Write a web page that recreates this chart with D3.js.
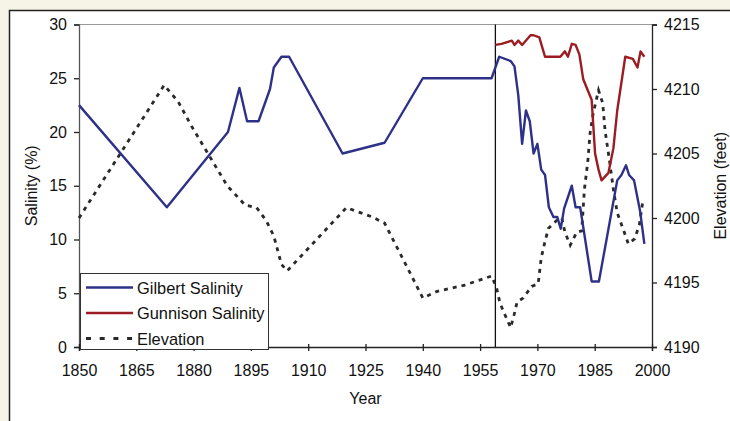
<!DOCTYPE html>
<html>
<head>
<meta charset="utf-8">
<script src="https://d3js.org/d3.v7.min.js"></script>
<style>
body{margin:0;padding:0;background:#f6f4e6}
svg text{font-family:"Liberation Sans",Arial,sans-serif;fill:#111}
</style>
</head>
<body>
<svg id="svg1" width="730" height="421"></svg>
<script>
var gilbertYears = [1850,1873,1889,1892,1894,1897,1900,1901,1903,1905,1919,1930,1940,1958,1960,1963,1964,1965,1966,1967,1968,1969,1970,1971,1972,1973,1974.2,1975.2,1976.1,1977,1979,1980,1981.2,1984.2,1986.1,1988.1,1990.9,1992,1993.2,1994,1995.3,1996.9,1998]
var gilbertVals  = [22.5,13,20,24.1,21,21,24,26,27,27,18,19,25,25,27,26.6,26.1,23.4,18.9,22,21,18,18.9,16.5,16,13,12.1,12.1,11,12.9,15,13,13,6.1,6.1,10,15.5,16,16.9,16,15.5,12.6,9.6]

var gunnisonYears = [1959,1960.6,1963.3,1964,1965,1966,1968.2,1969,1970.5,1972,1976,1977.2,1978,1979,1980,1981,1982,1984.2,1985.1,1986,1986.8,1988.6,1989.9,1990.9,1993,1995,1996.2,1997,1998]
var gunnisonVals  = [28.1,28.2,28.5,28.1,28.5,28.1,29,29,28.8,27,27,27.5,27,28.2,28.1,27.2,24.9,23,18,16.5,15.5,16.2,18.5,22,27,26.8,26,27.5,27]

var elevYears = [1850,1872.3,1876,1879.5,1888.8,1893.5,1896.5,1899,1901,1903,1904.5,1920,1926.6,1930,1940,1943.6,1951,1958,1959.3,1960.2,1961.5,1963,1963.9,1964.7,1966.3,1968.5,1970.2,1971,1972,1972.9,1975,1976.4,1977.2,1978.6,1980.3,1981.6,1982.3,1983.2,1983.8,1984.6,1986,1987.1,1987.7,1988.8,1989.9,1990.9,1992.5,1993.8,1995.5,1996.7,1997.7]
var elevVals  = [4200,4210.3,4209,4207.1,4202.5,4201,4200.8,4199.8,4198.6,4196.4,4195.9,4200.8,4200.1,4199.6,4193.8,4194.3,4194.8,4195.5,4194.6,4193.4,4192.5,4191.5,4192.5,4193.5,4193.8,4194.7,4194.9,4196.9,4198.2,4199.2,4199.8,4200,4198.9,4197.9,4198.9,4199,4202.2,4204.4,4206.6,4208.1,4209.9,4208.9,4206.8,4204.6,4202.2,4200.4,4199.1,4198,4198.4,4199.5,4201.5]

var yearTicks = [1850,1865,1880,1895,1910,1925,1940,1955,1970,1985,2000]
var salTicks = [0,5,10,15,20,25,30]
var elevTicks = [4190,4195,4200,4205,4210,4215]
var dividerYear = 1959

var legendNames = ["Gilbert Salinity","Gunnison Salinity","Elevation"]
var colors = ["#2e3188","#9b1c22","#2a2a2a"]

var svg = d3.select("#svg1")
var L=79, R=652, T=24.5, B=347
var fs = 16

svg.append("rect").attr("x",0).attr("y",0).attr("width",730).attr("height",421).attr("fill","#f6f4e6")
svg.append("rect").attr("x",9.5).attr("y",10.5).attr("width",740).attr("height",440)
  .attr("fill","#fff").attr("stroke","#222").attr("stroke-width",1.5)

var x = d3.scaleLinear().domain([1850,2000]).range([L,R])
var ySal = d3.scaleLinear().domain([0,30]).range([B,T])
var yEl = d3.scaleLinear().domain([4190,4215]).range([B,T])

// top border of plot
svg.append("line").attr("x1",L).attr("x2",R).attr("y1",T).attr("y2",T)
  .attr("stroke","#999").attr("stroke-width",1)

var axL = svg.append("g").attr("transform","translate("+L+",0)")
  .call(d3.axisLeft(ySal).tickValues(salTicks).tickSize(5).tickPadding(7))
var axR = svg.append("g").attr("transform","translate("+R+",0)")
  .call(d3.axisRight(yEl).tickValues(elevTicks).tickFormat(d3.format("d")).tickSize(5).tickPadding(7))
var axB = svg.append("g").attr("transform","translate(0,"+B+")")
  .call(d3.axisBottom(x).tickValues(yearTicks).tickFormat(d3.format("d")).tickSize(4).tickPadding(14))
axB.selectAll(".tick line").attr("y1",-3)

;[axL,axR,axB].forEach(function(a){
  a.selectAll("text").attr("font-size",fs).attr("fill","#111")
  a.selectAll("path,line").attr("stroke","#222").attr("stroke-width",1.3)
})
axL.select(".domain").attr("stroke","#555")

svg.append("line").attr("x1",x(dividerYear)).attr("x2",x(dividerYear)).attr("y1",T).attr("y2",B)
  .attr("stroke","#111").attr("stroke-width",1.3)

function series(ys,vs,sc){
  return ys.map(function(d,i){return [x(d),sc(vs[i])]})
}
var line = d3.line()

svg.append("path").attr("d",line(series(elevYears,elevVals,yEl)))
  .attr("fill","none").attr("stroke",colors[2]).attr("stroke-width",2.8).attr("stroke-dasharray","4,5")
svg.append("path").attr("d",line(series(gilbertYears,gilbertVals,ySal)))
  .attr("fill","none").attr("stroke",colors[0]).attr("stroke-width",2.4).attr("stroke-linejoin","round")
svg.append("path").attr("d",line(series(gunnisonYears,gunnisonVals,ySal)))
  .attr("fill","none").attr("stroke",colors[1]).attr("stroke-width",2.4).attr("stroke-linejoin","round")

// axis titles
svg.append("text").attr("transform","translate(33,"+((T+B)/2)+") rotate(-90)")
  .attr("text-anchor","middle").attr("dominant-baseline","middle").attr("font-size",fs).text("Salinity (%)")
svg.append("text").attr("transform","translate(722,"+((T+B)/2)+") rotate(-90)")
  .attr("text-anchor","middle").attr("dominant-baseline","middle").attr("font-size",fs).text("Elevation (feet)")
svg.append("text").attr("x",(L+R)/2).attr("y",404).attr("text-anchor","middle").attr("font-size",fs).text("Year")

// legend
var lg = svg.append("g")
lg.append("rect").attr("x",80.5).attr("y",273.5).attr("width",188).attr("height",76)
  .attr("fill","#fff").attr("stroke","#333").attr("stroke-width",1)
legendNames.forEach(function(n,i){
  var yy = 287.5+i*25.5
  var ln = lg.append("line").attr("x1",86).attr("x2",133).attr("y1",yy).attr("y2",yy)
    .attr("stroke",colors[i]).attr("stroke-width",i==2?3:2.4)
  if(i==2) ln.attr("stroke-dasharray","5,8.7")
  lg.append("text").attr("x",137).attr("y",yy+6).attr("font-size",16.4).text(n)
})
</script>
</body>
</html>
